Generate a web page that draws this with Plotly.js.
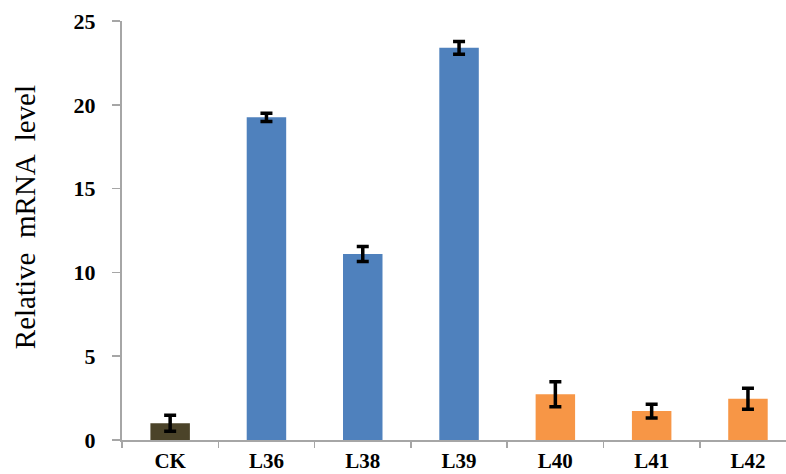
<!DOCTYPE html>
<html>
<head>
<meta charset="utf-8">
<script src="https://cdn.plot.ly/plotly-3.0.1.min.js"></script>
<style>html,body{margin:0;padding:0;background:#fff;}#chart{width:786px;height:474px;}</style>
</head>
<body>
<div id="chart"></div>
<script>
var categories = ["CK", "L36", "L38", "L39", "L40", "L41", "L42"];
var values = [1.0, 19.25, 11.1, 23.4, 2.73, 1.73, 2.46];
var errors = [0.48, 0.25, 0.45, 0.38, 0.75, 0.41, 0.63];
var barColors = ["#4b4329", "#4f81bd", "#4f81bd", "#4f81bd", "#f79646", "#f79646", "#f79646"];
var yTicks = [0, 5, 10, 15, 20, 25];
var yTitle = "Relative  mRNA  level";

var trace = {
  type: "bar",
  x: categories,
  y: values,
  width: 0.41,
  marker: {color: barColors, line: {width: 0}},
  error_y: {type: "data", array: errors, visible: true, color: "#000000", thickness: 3.5, width: 6},
  hoverinfo: "x+y"
};

var serif = "Liberation Serif, Times New Roman, serif";

var layout = {
  width: 786,
  height: 474,
  margin: {l: 122, r: 0, t: 21, b: 34},
  paper_bgcolor: "#ffffff",
  plot_bgcolor: "#ffffff",
  showlegend: false,
  xaxis: {
    type: "category",
    range: [-0.5, 6.395],
    showline: true,
    linecolor: "#a6a6a6",
    linewidth: 2,
    ticks: "outside",
    tickson: "boundaries",
    ticklen: 6,
    tickcolor: "#a6a6a6",
    tickwidth: 1.5,
    ticklabelstandoff: 1,
    showgrid: false,
    zeroline: false,
    tickfont: {family: serif, size: 21, color: "#000000", weight: "bold"}
  },
  yaxis: {
    range: [0, 25],
    tickvals: yTicks,
    ticktext: yTicks.map(String),
    showline: true,
    linecolor: "#a6a6a6",
    linewidth: 2,
    ticks: "outside",
    ticklen: 8,
    tickcolor: "#a6a6a6",
    tickwidth: 1.5,
    ticklabelstandoff: 12,
    showgrid: false,
    zeroline: false,
    tickfont: {family: serif, size: 22, color: "#000000", weight: "bold"}
  },
  annotations: [{
    text: yTitle,
    xref: "paper", yref: "paper",
    x: -0.146, y: 0.532,
    xanchor: "center", yanchor: "middle",
    textangle: -90,
    showarrow: false,
    font: {family: serif, size: 29, color: "#000000"}
  }]
};

Plotly.newPlot("chart", [trace], layout, {displayModeBar: false, staticPlot: true});
</script>
</body>
</html>
